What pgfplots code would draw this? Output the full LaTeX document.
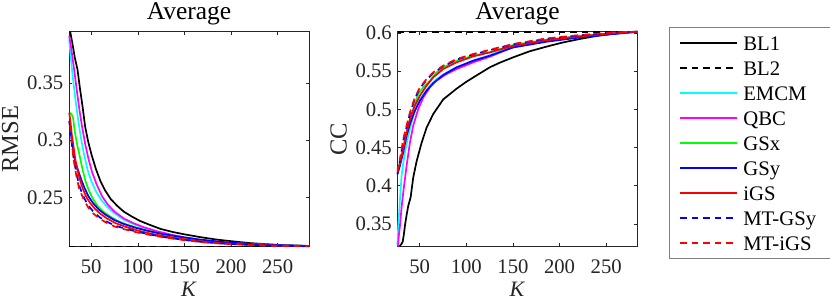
\documentclass[border=0pt]{standalone}
\usepackage{fontspec}
\setmainfont{Liberation Serif}
\usepackage{pgfplots}
\pgfplotsset{compat=1.18}
\definecolor{axgray}{rgb}{0.15,0.15,0.15}
\definecolor{leggray}{rgb}{0.5,0.5,0.5}
\definecolor{mcyan}{rgb}{0,1,1}
\definecolor{mmag}{rgb}{1,0,1}
\definecolor{mgreen}{rgb}{0,1,0}
\definecolor{mblue}{rgb}{0,0,1}
\definecolor{mred}{rgb}{1,0,0}
\pgfplotsset{
  every axis title shift=0pt,
  myax/.style={
    scale only axis, width=240pt, height=214.8pt,
    xmin=26.2, xmax=283.6,
    axis line style={axgray, line width=0.6pt},
    tick style={axgray, line width=0.6pt},
    major tick length=3.5pt,
    tick align=inside,
    xtick={50,100,150,200,250},
    xticklabels={50,100,150,200,250},
    ticklabel style={font=\fontsize{20.7}{22}\selectfont, text=axgray},
    xticklabel style={anchor=north, inner sep=0pt, yshift=-13pt},
    yticklabel style={anchor=east, inner sep=0pt, xshift=-5.5pt},
    xlabel={\textit{K}},
    xlabel style={at={(axis description cs:0.5,-0.2342)}, anchor=base, inner sep=0pt, font=\fontsize{22}{24}\selectfont, text=axgray},
    ylabel style={at={(axis description cs:-0.2125,0.5)}, anchor=base, inner sep=0pt, font=\fontsize{24.5}{26}\selectfont, text=axgray},
    title style={at={(axis description cs:0.5,1.0545)}, anchor=base, inner sep=0pt, font=\fontsize{25.5}{28}\selectfont},
    title={Average},
    clip=false,
    every axis plot/.append style={line width=1.7pt},
  },
  bl1/.style={black, solid},
  bl2/.style={black, dash pattern=on 6.5pt off 5pt},
  emcm/.style={mcyan, solid},
  qbc/.style={mmag, solid},
  gsx/.style={mgreen, solid},
  gsy/.style={mblue, solid},
  igs/.style={mred, solid},
  mtgsy/.style={mblue, dash pattern=on 6.5pt off 5pt},
  mtigs/.style={mred, dash pattern=on 6.5pt off 5pt},
}
\begin{document}
\begin{tikzpicture}
\useasboundingbox (0,0) rectangle (830pt,301pt);
% ---------------- RMSE ----------------
\begin{axis}[myax, at={(69pt,54.5pt)}, anchor=south west,
  ymin=0.207, ymax=0.395,
  ytick={0.25,0.3,0.35}, yticklabels={0.25,0.3,0.35},
  ylabel={RMSE}]
\addplot[bl1] coordinates {(27.5,0.395)(30,0.384)(32.5,0.372)(35.3,0.362)(38,0.345)(40.5,0.331)(43.5,0.312)(47,0.298)(50.5,0.287)(55,0.275)(60,0.264)(65,0.256)(71,0.2485)(78,0.2425)(85,0.2375)(93,0.2335)(102,0.2295)(112,0.2262)(124,0.2225)(137,0.2198)(149,0.2178)(167,0.2152)(185,0.2130)(202,0.2115)(220,0.2100)(238,0.2090)(256,0.2082)(283.6,0.2075)};
\addplot[bl2] coordinates {(26.2,0.207)(283.6,0.207)};
\addplot[emcm] coordinates {(26.4,0.3884)(27.5,0.378)(29,0.365)(31,0.350)(33.5,0.333)(36,0.318)(39,0.302)(42,0.289)(46,0.2745)(50,0.2645)(55,0.2555)(61,0.2475)(68,0.2410)(75,0.2360)(85,0.2305)(95,0.2268)(106,0.2235)(120,0.2200)(135,0.2172)(150,0.2148)(170,0.2123)(190,0.2106)(220,0.2091)(250,0.2081)(283.6,0.2074)};
\addplot[qbc] coordinates {(26.4,0.3913)(28,0.384)(30,0.372)(32.5,0.357)(35,0.341)(37.5,0.326)(40,0.313)(43.5,0.297)(47,0.284)(51,0.272)(56,0.261)(62,0.2505)(68,0.2435)(75,0.2375)(85,0.2315)(95,0.2275)(106,0.2240)(120,0.2205)(135,0.2175)(150,0.2150)(170,0.2125)(190,0.2107)(220,0.2092)(250,0.2082)(283.6,0.2074)};
\addplot[gsx] coordinates {(27,0.3241)(29,0.3225)(30.5,0.320)(32.5,0.307)(35,0.296)(38,0.285)(41,0.2735)(44,0.264)(47.5,0.256)(52,0.2485)(57,0.2425)(63,0.2375)(70,0.2335)(78,0.2295)(88,0.2262)(100,0.2232)(115,0.2200)(130,0.2172)(150,0.2145)(170,0.2122)(190,0.2106)(220,0.2090)(250,0.2080)(283.6,0.2074)};
\addplot[gsy] coordinates {(26.4,0.317)(28,0.307)(31,0.2899)(33,0.281)(36.4,0.2725)(40,0.2640)(43,0.2580)(47,0.2510)(52,0.2450)(58,0.2395)(65,0.2350)(74,0.2305)(84,0.2270)(96,0.2238)(110,0.2208)(125,0.2182)(145,0.2155)(165,0.2132)(190,0.2110)(220,0.2092)(250,0.2082)(283.6,0.2074)};
\addplot[igs] coordinates {(26.4,0.3241)(27.5,0.318)(29.3,0.3043)(31,0.295)(32.8,0.2841)(35,0.275)(37.5,0.2667)(41,0.2575)(45,0.2500)(49,0.2450)(54,0.2400)(60,0.2355)(67,0.2315)(76,0.2275)(86,0.2245)(100,0.2210)(115,0.2180)(130,0.2158)(150,0.2133)(170,0.2113)(190,0.2099)(220,0.2086)(250,0.2078)(283.6,0.2073)};
\addplot[mtgsy] coordinates {(27.5,0.3100)(29,0.2980)(31,0.2850)(33,0.2760)(35,0.2680)(37.5,0.2595)(40.5,0.2530)(44,0.2470)(48,0.2418)(53,0.2368)(59,0.2326)(67,0.2286)(76,0.2252)(86,0.2227)(100,0.2198)(115,0.2172)(130,0.2150)(150,0.2127)(170,0.2109)(190,0.2096)(220,0.2084)(250,0.2077)(283.6,0.2072)};
\addplot[mtigs] coordinates {(27.5,0.3130)(29,0.3000)(31,0.2841)(33,0.274)(34.6,0.2667)(37,0.2580)(40,0.2520)(43,0.2465)(47,0.2410)(52,0.2360)(58,0.2320)(66,0.2280)(75,0.2245)(85,0.2222)(100,0.2192)(115,0.2168)(130,0.2148)(150,0.2125)(170,0.2107)(190,0.2095)(220,0.2083)(250,0.2076)(283.6,0.2072)};
\end{axis}
% ---------------- CC ----------------
\begin{axis}[myax, at={(397.5pt,54.5pt)}, anchor=south west,
  ymin=0.3205, ymax=0.6015,
  ytick={0.35,0.4,0.45,0.5,0.55,0.6}, yticklabels={0.35,0.4,0.45,0.5,0.55,0.6},
  ylabel={CC},
  legend cell align=left,
  legend style={at={(axis description cs:1.1325,1.0205)}, anchor=north west,
    draw=leggray, line width=0.6pt, fill=white,
    inner xsep=10pt, inner ysep=8.5pt, row sep=11pt,
    font=\fontsize{20.7}{22}\selectfont,
    nodes={inner sep=0pt, text height=14pt, text depth=0pt}},
  legend image code/.code={\draw[#1] (0pt,0pt) -- (57pt,0pt); \path (62pt,0pt);}]
\addplot[bl1] coordinates {(28.5,0.3208)(30.5,0.3240)(31.7,0.3264)(33,0.336)(34.2,0.348)(36,0.362)(37.8,0.374)(40.3,0.385)(43.1,0.411)(46.7,0.432)(52,0.456)(57.4,0.476)(64.6,0.494)(75.3,0.513)(89.6,0.527)(100,0.536)(114.6,0.547)(125.3,0.555)(136,0.561)(150.3,0.568)(168.2,0.576)(186.1,0.582)(203.9,0.5875)(221.8,0.592)(239.7,0.596)(257.5,0.599)(283.6,0.6015)};
\addlegendentry{\makebox[77pt][l]{BL1}}
\addplot[bl2] coordinates {(26.2,0.6015)(283.6,0.6015)};
\addlegendentry{BL2}
\addplot[emcm] coordinates {(26.2,0.322)(26.5,0.335)(27.1,0.3482)(28,0.366)(28.9,0.383)(30.6,0.4134)(32.4,0.43)(34.2,0.4439)(37.8,0.4657)(43.1,0.4918)(48.5,0.5092)(53.9,0.52)(61,0.5309)(68.1,0.5396)(78.9,0.5483)(89.6,0.5549)(107.4,0.5636)(125.3,0.571)(150,0.5825)(186,0.5900)(222,0.5950)(257,0.5990)(283.6,0.6015)};
\addlegendentry{EMCM}
\addplot[qbc] coordinates {(26.7,0.3208)(27.5,0.333)(28.9,0.3482)(30.6,0.372)(32.4,0.3917)(36,0.4265)(39.6,0.457)(43.1,0.4787)(48.5,0.5005)(53.9,0.5157)(61,0.5288)(68.1,0.5375)(78.9,0.5462)(89.6,0.5527)(107.4,0.5614)(125.3,0.5688)(150,0.5815)(186,0.5895)(222,0.5948)(257,0.5988)(283.6,0.6015)};
\addlegendentry{QBC}
\addplot[gsx] coordinates {(26.2,0.42)(28.9,0.4309)(32.4,0.4504)(37.8,0.4787)(43.1,0.5005)(48.5,0.52)(53.9,0.5288)(61,0.5375)(68.1,0.5483)(75.3,0.5549)(89.6,0.5636)(107.4,0.5701)(125.3,0.5745)(150,0.584)(186,0.591)(222,0.5958)(257,0.5995)(283.6,0.6015)};
\addlegendentry{GSx}
\addplot[gsy] coordinates {(26.2,0.4156)(28.9,0.4265)(32.4,0.4439)(36,0.4657)(39.6,0.4809)(44.9,0.4983)(50.3,0.5114)(57.4,0.5244)(64.6,0.5344)(75.3,0.5449)(89.6,0.5549)(107.4,0.5636)(125.3,0.5701)(150.3,0.5809)(186.1,0.5884)(221.8,0.594)(257.5,0.5984)(283.6,0.6015)};
\addlegendentry{GSy}
\addplot[igs] coordinates {(26.2,0.4222)(28.9,0.4287)(32.4,0.4483)(36,0.47)(39.6,0.4874)(44.9,0.5048)(50.3,0.5179)(57.4,0.5309)(64.6,0.5418)(75.3,0.5527)(89.6,0.5614)(107.4,0.5692)(125.3,0.5745)(150,0.583)(186,0.5905)(222,0.5955)(257,0.5995)(283.6,0.6015)};
\addlegendentry{iGS}
\addplot[mtgsy] coordinates {(26.2,0.4150)(28.9,0.4330)(32.4,0.4590)(36,0.4770)(39.6,0.4945)(44.9,0.5140)(50.3,0.5275)(57.4,0.5385)(64.6,0.5475)(75.3,0.5562)(89.6,0.5650)(107.4,0.5717)(125.3,0.5773)(150.3,0.5850)(186.1,0.5923)(221.8,0.5968)(257.5,0.6003)(283.6,0.6015)};
\addlegendentry{MT-GSy}
\addplot[mtigs] coordinates {(26.2,0.4178)(28.9,0.4352)(32.4,0.4613)(36,0.4787)(39.6,0.4961)(44.9,0.5157)(50.3,0.5288)(57.4,0.5396)(64.6,0.5483)(75.3,0.5571)(89.6,0.5658)(107.4,0.5723)(125.3,0.5779)(150.3,0.5854)(186.1,0.5927)(221.8,0.5971)(257.5,0.6005)(283.6,0.6015)};
\addlegendentry{MT-iGS}
\end{axis}
\end{tikzpicture}
\end{document}
